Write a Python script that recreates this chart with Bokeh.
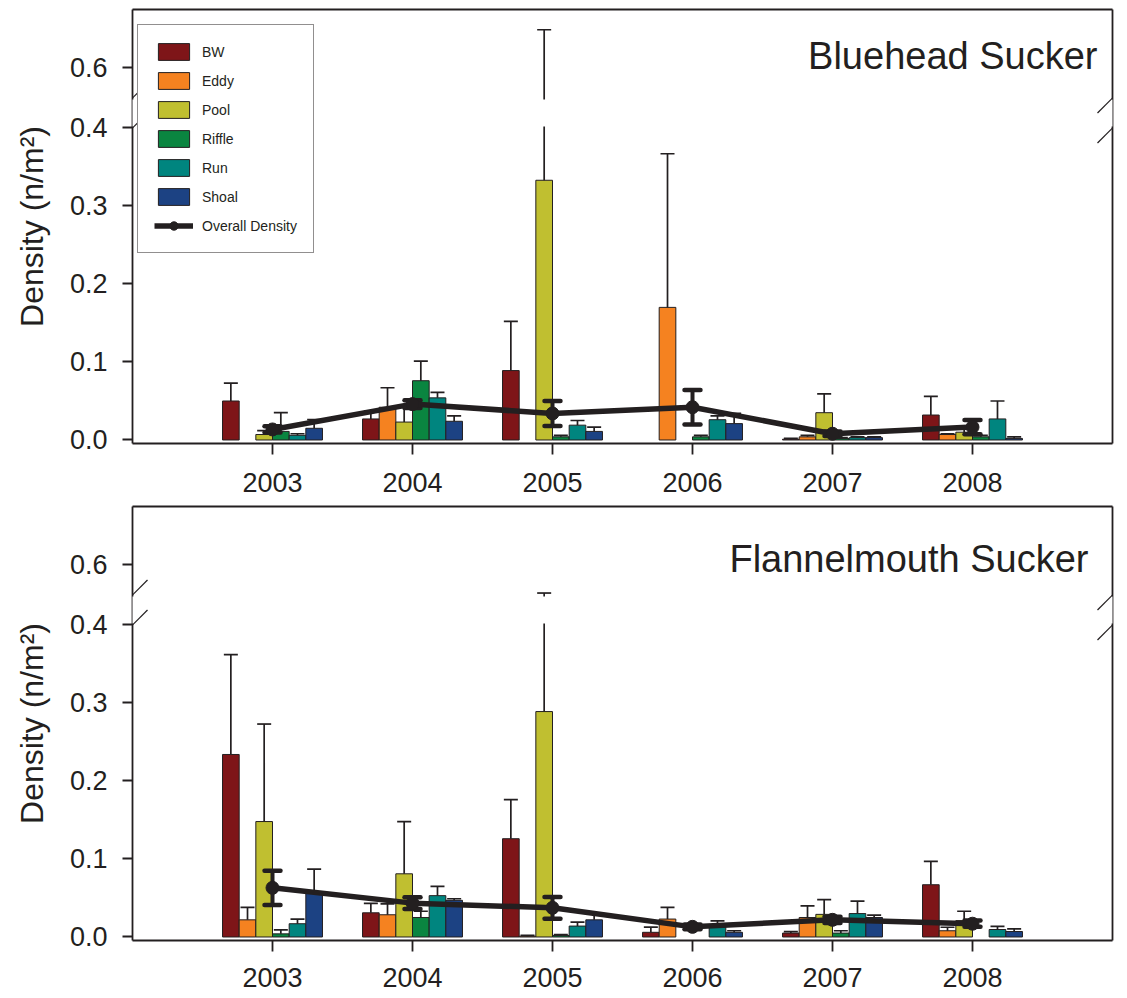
import numpy as np
from bokeh.plotting import figure
from bokeh.models import (ColumnDataSource, Range1d, FixedTicker, LinearAxis, Legend,
                          LegendItem, BoxAnnotation, Arrow, Label, CustomJSTickFormatter)
from bokeh.transform import dodge
from bokeh.layouts import column
from bokeh.embed import file_html
from bokeh.resources import INLINE

nan = float("nan")

# ---------------- data ----------------
years = [2003, 2004, 2005, 2006, 2007, 2008]
habitats = ["BW", "Eddy", "Pool", "Riffle", "Run", "Shoal"]
habitat_colors = ["#7e1518", "#f58220", "#c0bf30", "#0a8540", "#00857f", "#1c4283"]
y_tick_values = [0.0, 0.1, 0.2, 0.3, 0.4, 0.6]

# Bluehead Sucker: mean density (n/m2) and SE by habitat
bh_bw = [0.050, 0.027, 0.089, nan, 0.001, 0.032]
bh_bw_se = [0.023, 0.010, 0.063, nan, 0.001, 0.024]
bh_eddy = [nan, 0.042, nan, 0.170, 0.004, 0.007]
bh_eddy_se = [nan, 0.025, nan, 0.197, 0.002, 0.001]
bh_pool = [0.007, 0.023, 0.333, nan, 0.035, 0.010]
bh_pool_se = [0.005, 0.020, 0.316, nan, 0.024, 0.008]
bh_riffle = [0.011, 0.076, 0.004, 0.004, 0.002, 0.004]
bh_riffle_se = [0.024, 0.025, 0.002, 0.002, 0.001, 0.002]
bh_run = [0.006, 0.054, 0.019, 0.026, 0.003, 0.027]
bh_run_se = [0.002, 0.007, 0.006, 0.005, 0.001, 0.023]
bh_shoal = [0.015, 0.024, 0.011, 0.021, 0.003, 0.002]
bh_shoal_se = [0.011, 0.007, 0.0055, 0.013, 0.001, 0.002]
bh_overall = [0.0135, 0.046, 0.034, 0.042, 0.008, 0.0165]
bh_overall_se = [0.004, 0.005, 0.016, 0.022, 0.003, 0.009]

# Flannelmouth Sucker
fm_bw = [0.234, 0.031, 0.126, 0.006, 0.005, 0.067]
fm_bw_se = [0.128, 0.012, 0.050, 0.0066, 0.002, 0.030]
fm_eddy = [0.022, 0.0285, 0.001, 0.023, 0.025, 0.008]
fm_eddy_se = [0.016, 0.014, 0.001, 0.015, 0.015, 0.0045]
fm_pool = [0.148, 0.081, 0.289, nan, 0.029, 0.021]
fm_pool_se = [0.125, 0.067, 0.275, nan, 0.019, 0.012]
fm_riffle = [0.004, 0.025, 0.002, nan, 0.005, nan]
fm_riffle_se = [0.005, 0.008, 0.001, nan, 0.003, nan]
fm_run = [0.017, 0.053, 0.014, 0.0126, 0.030, 0.0096]
fm_run_se = [0.006, 0.012, 0.005, 0.008, 0.016, 0.004]
fm_shoal = [0.056, 0.047, 0.022, 0.006, 0.025, 0.007]
fm_shoal_se = [0.031, 0.002, 0.008, 0.002, 0.003, 0.0035]
fm_overall = [0.063, 0.0434, 0.0374, 0.013, 0.022, 0.017]
fm_overall_se = [0.022, 0.0075, 0.014, 0.003, 0.004, 0.004]

# ---------------- broken axis ----------------
LOW_TOP = 0.4          # top of the lower axis segment
HIGH_BOTTOM = 0.5615   # bottom of the upper axis segment
PX = 780.0             # pixels per unit density
GAP = 30 / PX          # height of the break
SHIFT = HIGH_BOTTOM - LOW_TOP - GAP
FRAME_H = 434
Y0 = -0.0045
Y1 = Y0 + FRAME_H / PX


def disp(v):
    a = np.asarray(v, dtype=float)
    return np.where(a > LOW_TOP, a - SHIFT, a)


INK = "#231f20"
FONT = "Liberation Sans"
BAR_W = 0.119
CAP_W = 0.10
OCAP = 0.057
LEGEND_H = 227


def panel(title, means, ses, overall, overall_se, title_dx, title_dy,
          top_border, bottom_border, xlabel_standoff, with_legend):
    p = figure(width=1127, height=top_border + FRAME_H + bottom_border,
               x_range=Range1d(2002, 2009), y_range=Range1d(Y0, Y1),
               output_backend="svg", toolbar_location=None,
               min_border_left=132, min_border_right=15,
               min_border_top=top_border, min_border_bottom=bottom_border,
               outline_line_color=None, background_fill_color="white",
               border_fill_color="white")
    p.grid.visible = False

    bars = []
    for i, name in enumerate(habitats):
        off = (i - 2.5) * BAR_W
        m = np.asarray(means[i], dtype=float)
        s = np.asarray(ses[i], dtype=float)
        src = ColumnDataSource(dict(year=years, top=disp(m), hi=disp(m + s)))
        r = p.vbar(x=dodge("year", off), top="top", bottom=0, width=BAR_W, source=src,
                   fill_color=habitat_colors[i], line_color=INK, line_width=1)
        bars.append(r)
    for i, name in enumerate(habitats):
        off = (i - 2.5) * BAR_W
        m = np.asarray(means[i], dtype=float)
        s = np.asarray(ses[i], dtype=float)
        src = ColumnDataSource(dict(year=years, top=disp(m), hi=disp(m + s)))
        p.segment(x0=dodge("year", off), y0="top", x1=dodge("year", off), y1="hi",
                  source=src, line_color=INK, line_width=1.7)
        p.segment(x0=dodge("year", off - CAP_W / 2), y0="hi",
                  x1=dodge("year", off + CAP_W / 2), y1="hi",
                  source=src, line_color=INK, line_width=1.7)

    om = np.asarray(overall, dtype=float)
    oe = np.asarray(overall_se, dtype=float)
    osrc = ColumnDataSource(dict(year=years, y=disp(om), lo=disp(om - oe), hi=disp(om + oe)))
    p.segment(x0="year", y0="lo", x1="year", y1="hi", source=osrc,
              line_color=INK, line_width=4)
    for f in ("lo", "hi"):
        p.segment(x0=dodge("year", -OCAP), y0=f, x1=dodge("year", OCAP), y1=f,
                  source=osrc, line_color=INK, line_width=4.5, line_cap="round")
    lr = p.line("year", "y", source=osrc, line_color=INK, line_width=5.5, line_join="round")
    sr = p.scatter("year", "y", source=osrc, size=13, fill_color=INK, line_color=INK)

    # axes
    xa = p.xaxis[0]
    xa.ticker = FixedTicker(ticks=years)
    xa.major_tick_out = 11
    xa.major_tick_in = 0
    xa.minor_tick_out = 0
    xa.minor_tick_in = 0
    xa.axis_line_width = 1.8
    xa.axis_line_color = INK
    xa.major_tick_line_width = 1.8
    xa.major_tick_line_color = INK
    xa.major_label_text_font = FONT
    xa.major_label_text_font_size = "27px"
    xa.major_label_text_color = INK
    xa.major_label_standoff = xlabel_standoff

    ya = p.yaxis[0]
    ya.ticker = FixedTicker(ticks=list(disp(y_tick_values)))
    ya.formatter = CustomJSTickFormatter(
        args=dict(lim=LOW_TOP, shift=SHIFT),
        code="const v = tick > lim + 1e-6 ? tick + shift : tick; return v.toFixed(1);")
    ya.major_tick_out = 10
    ya.major_tick_in = 0
    ya.minor_tick_out = 0
    ya.minor_tick_in = 0
    ya.axis_line_width = 1.8
    ya.axis_line_color = INK
    ya.major_tick_line_width = 1.8
    ya.major_tick_line_color = INK
    ya.major_label_text_font = FONT
    ya.major_label_text_font_size = "27px"
    ya.major_label_text_color = INK
    ya.major_label_standoff = 15
    ya.axis_label = "Density (n/m\u00b2)"
    ya.axis_label_text_font = FONT
    ya.axis_label_text_font_size = "32px"
    ya.axis_label_text_font_style = "normal"
    ya.axis_label_text_color = INK
    ya.axis_label_standoff = 17

    for loc in ("right", "above"):
        ax = LinearAxis(ticker=FixedTicker(ticks=[]), major_tick_out=0, major_tick_in=0,
                        minor_tick_out=0, minor_tick_in=0, major_label_standoff=0,
                        major_label_text_font_size="0px",
                        axis_line_width=1.8, axis_line_color=INK)
        p.add_layout(ax, loc)

    # break: white mask over frame lines and bars, then diagonal marks
    p.add_layout(BoxAnnotation(left=2002 - 5 / 140, right=2009 + 5 / 140,
                               bottom=LOW_TOP + 1.5 / PX, top=LOW_TOP + GAP - 1.5 / PX,
                               fill_color="white", fill_alpha=1.0, line_alpha=0,
                               level="annotation"))
    dx = 15 / 140
    dy = 15 / PX
    for yb in (LOW_TOP, LOW_TOP + GAP):
        for xb in (2002, 2009):
            p.add_layout(Arrow(end=None, x_start=xb - dx, y_start=yb - dy,
                               x_end=xb + dx, y_end=yb + dy,
                               line_color=INK, line_width=1.2))

    if with_legend:
        items = [LegendItem(label=h, renderers=[bars[i]]) for i, h in enumerate(habitats)]
        items.append(LegendItem(label="Overall Density", renderers=[lr, sr]))
        leg = Legend(items=items, location=(5, FRAME_H - 17 - LEGEND_H), padding=16, spacing=8,
                     glyph_width=39, glyph_height=21, label_standoff=9, margin=0,
                     label_text_font=FONT, label_text_font_size="14px",
                     label_text_color=INK, border_line_color=INK, border_line_width=1.2,
                     background_fill_color="white", background_fill_alpha=1.0)
        p.add_layout(leg, "center")

    p.add_layout(Label(x=2009 - title_dx / 140, y=Y1 - title_dy / PX, text=title,
                       text_align="right", text_baseline="alphabetic",
                       text_font=FONT, text_font_size="38px", text_color=INK))
    return p


p1 = panel("Bluehead Sucker",
           [bh_bw, bh_eddy, bh_pool, bh_riffle, bh_run, bh_shoal],
           [bh_bw_se, bh_eddy_se, bh_pool_se, bh_riffle_se, bh_run_se, bh_shoal_se],
           bh_overall, bh_overall_se, 15, 46, 9, 62, 18, True)
p2 = panel("Flannelmouth Sucker",
           [fm_bw, fm_eddy, fm_pool, fm_riffle, fm_run, fm_shoal],
           [fm_bw_se, fm_eddy_se, fm_pool_se, fm_riffle_se, fm_run_se, fm_shoal_se],
           fm_overall, fm_overall_se, 24, 52, 1, 57, 16, False)

layout = column(p1, p2, spacing=0)
open("out.html", "w").write(file_html(layout, INLINE))
